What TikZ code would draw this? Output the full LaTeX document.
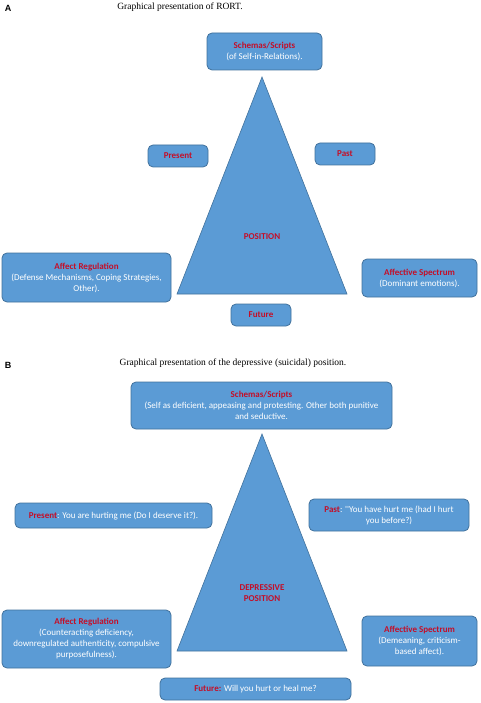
\documentclass[tikz,border=0pt]{standalone}
\usepackage{fontspec}
\setmainfont{Liberation Serif}
\newfontfamily\boxfont{Carlito}
\newfontfamily\panelfont{Liberation Sans}
\definecolor{boxblue}{RGB}{91,155,213}
\definecolor{boxedge}{RGB}{65,113,156}
\definecolor{headred}{RGB}{196,14,40}
\tikzset{
  box/.style={draw=boxedge, fill=boxblue, line width=0.8pt, rounded corners=5pt,
    text=white, align=center, inner sep=1pt,
    font=\boxfont\fontsize{9}{11}\selectfont},
  tri/.style={draw=boxedge, fill=boxblue, line width=0.6pt},
  head/.style={font=\boxfont\bfseries\fontsize{9}{11.5}\selectfont, text=headred, align=center},
  title/.style={font=\fontsize{9.5}{11}\selectfont},
  panel/.style={font=\panelfont\bfseries\fontsize{9}{11}\selectfont}
}
\newcommand{\hd}[1]{\textcolor{headred}{\bfseries #1}}
\begin{document}
\begin{tikzpicture}[x=1pt,y=-1pt]
  \useasboundingbox (0,0) rectangle (480,703);
  % panel A
  \node[panel] (labA) at (8,8) {A};
  \node[title] (titA) at (180,7) {Graphical presentation of RORT.};
  \draw[tri] (262,77) -- (177,294) -- (347,294) -- cycle;
  \node[head] (posA) at (262,237) {POSITION};
  \node[box, minimum width=115pt, minimum height=37pt] (schA) at (264.5,51.5)
    {\hd{Schemas/Scripts}\\(of Self-in-Relations).};
  \node[box, minimum width=60pt, minimum height=22pt] (presA) at (178,156) {\hd{Present}};
  \node[box, minimum width=60pt, minimum height=22pt] (pastA) at (345,154) {\hd{Past}};
  \node[box, minimum width=169pt, minimum height=49pt] (affA) at (86.5,277.5)
    {\hd{Affect Regulation}\\(Defense Mechanisms, Coping Strategies,\\Other).};
  \node[box, minimum width=115pt, minimum height=38pt] (specA) at (419.5,278)
    {\hd{Affective Spectrum}\\(Dominant emotions).};
  \node[box, minimum width=60pt, minimum height=22pt] (futA) at (261,315) {\hd{Future}};
  % panel B
  \node[panel] (labB) at (8,365) {B};
  \node[title] (titB) at (233,363) {Graphical presentation of the depressive (suicidal) position.};
  \draw[tri] (262,434) -- (177,651) -- (347,651) -- cycle;
  \node[head] (posB) at (262,593) {DEPRESSIVE\\POSITION};
  \node[box, minimum width=261pt, minimum height=47pt] (schB) at (261.5,405.5)
    {\hd{Schemas/Scripts}\\(Self as deficient, appeasing and protesting. Other both punitive\\and seductive.};
  \node[box, minimum width=197pt, minimum height=25pt] (presB) at (113.5,515.5)
    {\hd{Present}: You are hurting me (Do I deserve it?).};
  \node[box, minimum width=160pt, minimum height=32pt] (pastB) at (389,515)
    {\hd{Past}: ''You have hurt me (had I hurt\\you before?)};
  \node[box, minimum width=169pt, minimum height=58pt] (affB) at (86.5,639)
    {\hd{Affect Regulation}\\(Counteracting deficiency,\\downregulated authenticity, compulsive\\purposefulness).};
  \node[box, minimum width=115pt, minimum height=50pt] (specB) at (419.5,641)
    {\hd{Affective Spectrum}\\(Demeaning, criticism-\\based affect).};
  \node[box, minimum width=191pt, minimum height=22pt] (futB) at (255.5,689)
    {\hd{Future:} Will you hurt or heal me?};
\end{tikzpicture}
\end{document}
